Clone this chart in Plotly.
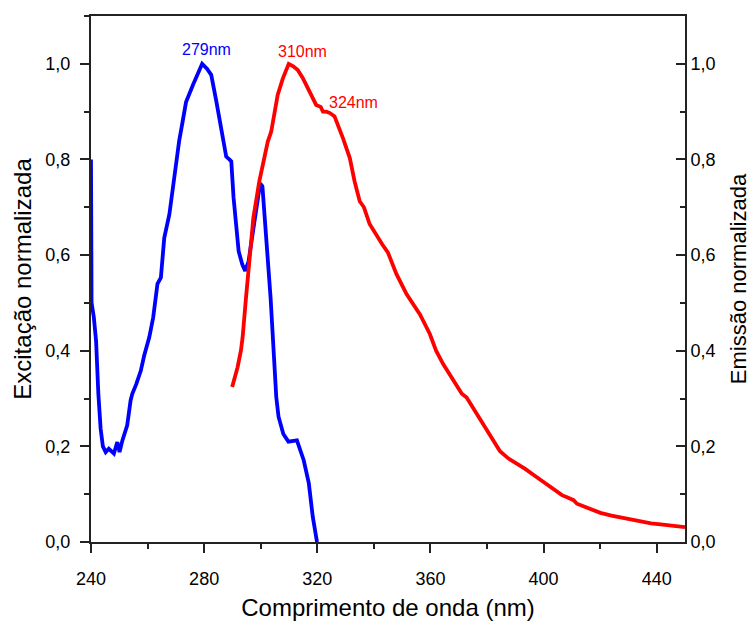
import plotly.graph_objects as go

# Excitation spectrum (blue)
exc_nm = [240, 240.2, 241, 241.8, 242.6, 243.4, 244.2, 245.2, 246.3, 247.2, 248.1, 249.3, 250.1,
          251.1, 252.8, 254.0, 254.6, 256.0, 257.6, 258.8, 260.6, 262.0, 263.5, 264.7, 265.9,
          267.7, 269.4, 271.2, 272.0, 273.6, 276.0, 277.5, 279.3, 281.0, 282.5, 284.2, 286.0,
          287.8, 288.9, 289.6, 290.4, 292.2, 293.5, 294.5, 295.7, 298.0, 299.8, 300.6, 302.2,
          303.5, 304.9, 305.5, 306.3, 308.0, 309.8, 311.5, 312.8, 315.2, 317.0, 318.4, 319.9]
exc_val = [0.80, 0.50, 0.47, 0.42, 0.31, 0.237, 0.20, 0.188, 0.195, 0.19, 0.185, 0.209, 0.188,
           0.2125, 0.244, 0.296, 0.31, 0.33, 0.358, 0.39, 0.428, 0.47, 0.54, 0.553, 0.636,
           0.685, 0.768, 0.84, 0.866, 0.92, 0.955, 0.975, 1.0, 0.99, 0.977, 0.925, 0.865,
           0.806, 0.80, 0.796, 0.72, 0.608, 0.58, 0.567, 0.587, 0.685, 0.75, 0.744, 0.622,
           0.51, 0.365, 0.303, 0.262, 0.226, 0.21, 0.212, 0.2125, 0.171, 0.123, 0.053, 0.0]

# Emission spectrum (red)
emi_nm = [289.9, 291.8, 293.0, 293.6, 294.8, 296.0, 297.4, 299.5, 301.3, 302.5, 303.7, 306.0,
          307.8, 309.9, 311.5, 313.1, 314.9, 316.2, 317.3, 318.5, 319.6, 321.2, 322.0, 323.2,
          324.5, 326.1, 327.5, 329.1, 331.5, 333.2, 335.0, 336.5, 338.5, 340.9, 343.0, 345.0,
          348.0, 351.6, 354.0, 356.3, 359.8, 362.0, 364.5, 368.1, 371.1, 372.8, 374.6, 377.3,
          381.1, 384.6, 387.5, 390.6, 393.5, 397.0, 400.0, 403.0, 406.5, 408.5, 410.6, 411.8,
          415.0, 420.1, 424.0, 427.2, 431.0, 434.3, 438.0, 441.4, 445.0, 450.0]
emi_val = [0.324, 0.365, 0.40, 0.428, 0.511, 0.58, 0.678, 0.754, 0.803, 0.8375, 0.858, 0.935,
           0.969, 1.0, 0.995, 0.987, 0.97, 0.955, 0.938, 0.925, 0.914, 0.91, 0.90, 0.90,
           0.897, 0.89, 0.87, 0.844, 0.803, 0.754, 0.7125, 0.70, 0.665, 0.64, 0.622, 0.605,
           0.56, 0.518, 0.495, 0.476, 0.435, 0.40, 0.372, 0.3375, 0.31, 0.302, 0.285, 0.262,
           0.223, 0.19, 0.175, 0.164, 0.153, 0.138, 0.126, 0.112, 0.098, 0.093, 0.0875, 0.08,
           0.072, 0.061, 0.055, 0.051, 0.046, 0.042, 0.039, 0.037, 0.034, 0.031]

# Peak labels
peak_text = ["279nm", "310nm", "324nm"]
peak_x = [280.7, 314.8, 332.9]
peak_y = [1.029, 1.025, 0.919]
peak_color = ["#0000FF", "#FF0000", "#FF0000"]
peak_axis = ["y", "y2", "y2"]

FONT = "Arial, Liberation Sans, sans-serif"
AX = "#222222"

fig = go.Figure()
fig.add_trace(go.Scatter(x=exc_nm, y=exc_val, mode="lines",
                         line=dict(color="#0000FF", width=3.8), yaxis="y", showlegend=False))
fig.add_trace(go.Scatter(x=emi_nm, y=emi_val, mode="lines",
                         line=dict(color="#FF0000", width=3.8), yaxis="y2", showlegend=False))

for t, x, y, c, a in zip(peak_text, peak_x, peak_y, peak_color, peak_axis):
    fig.add_annotation(text=t, x=x, y=y, xref="x", yref=a, showarrow=False,
                       font=dict(family=FONT, size=16, color=c))

fig.update_layout(
    width=748, height=618,
    margin=dict(l=83, r=71, t=6, b=84),
    paper_bgcolor="white", plot_bgcolor="white",
    separators=",.",
    font=dict(family=FONT, color="black"),
    xaxis=dict(range=[240, 450], tick0=240, dtick=40, showgrid=False, zeroline=False,
               showline=True, linecolor=AX, linewidth=2, mirror=True,
               ticks="outside", ticklen=9, tickwidth=1.5, tickcolor=AX,
               ticklabelstandoff=10,
               minor=dict(dtick=20, ticks="outside", ticklen=5, tickwidth=1.5, tickcolor=AX),
               tickfont=dict(size=18),
               title=dict(text="Comprimento de onda (nm)", font=dict(size=24), standoff=12)),
    yaxis=dict(range=[0, 1.1], tick0=0, dtick=0.2, tickformat=".1f", showgrid=False,
               zeroline=False, showline=True, linecolor=AX, linewidth=2,
               ticks="outside", ticklen=9, tickwidth=1.5, tickcolor=AX,
               ticklabelstandoff=6,
               minor=dict(dtick=0.1, ticks="outside", ticklen=5, tickwidth=1.5, tickcolor=AX),
               tickfont=dict(size=18),
               title=dict(text="Excitação normalizada", font=dict(size=24), standoff=7)),
    yaxis2=dict(range=[0, 1.1], tick0=0, dtick=0.2, tickformat=".1f", overlaying="y",
                side="right", showgrid=False, zeroline=False, showline=True, linecolor=AX,
                linewidth=2, ticks="inside", ticklen=9, tickwidth=1.5, tickcolor=AX,
                minor=dict(dtick=0.1, ticks="inside", ticklen=5, tickwidth=1.5, tickcolor=AX),
                tickfont=dict(size=18),
                title=dict(text="Emissão normalizada", font=dict(size=22), standoff=16)),
)

fig.write_html("out.html")
